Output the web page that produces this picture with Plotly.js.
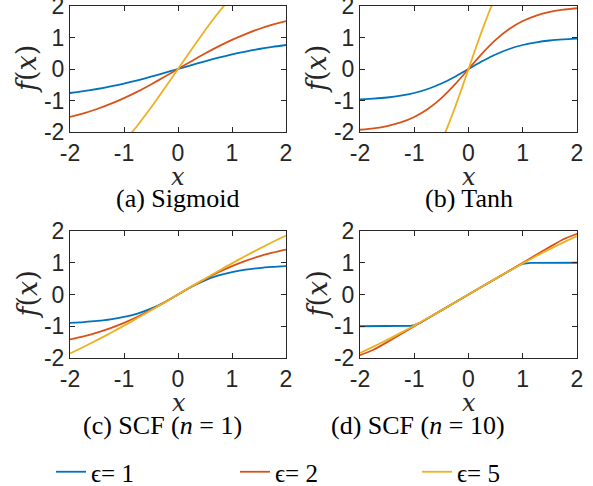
<!DOCTYPE html>
<html><head><meta charset="utf-8">
<script src="https://cdn.plot.ly/plotly-3.0.1.min.js"></script>
<style>html,body{margin:0;padding:0;background:#fff}#chart{width:593px;height:486px}</style>
</head><body><div id="chart"></div>
<script>
// ---- data ----
const seriesNames = ["ϵ= 1", "ϵ= 2", "ϵ= 5"];
const xGrid = [-2,-1.75,-1.5,-1.25,-1,-0.75,-0.5,-0.25,0,0.25,0.5,0.75,1,1.25,1.5,1.75,2];

const sigE1 = [-0.762,-0.704,-0.635,-0.555,-0.462,-0.358,-0.245,-0.124,0,0.124,0.245,0.358,0.462,0.555,0.635,0.704,0.762];
const sigE2 = [-1.523,-1.408,-1.270,-1.109,-0.924,-0.717,-0.490,-0.249,0,0.249,0.490,0.717,0.924,1.109,1.270,1.408,1.523];
const sigE5x = [-1,-0.75,-0.5,-0.25,0,0.25,0.5,0.75,1];
const sigE5 = [-2.311,-1.792,-1.225,-0.622,0,0.622,1.225,1.792,2.311];

const tanhE1 = [-0.964,-0.941,-0.905,-0.848,-0.762,-0.635,-0.462,-0.245,0,0.245,0.462,0.635,0.762,0.848,0.905,0.941,0.964];
const tanhE2 = [-1.928,-1.883,-1.810,-1.697,-1.523,-1.270,-0.924,-0.490,0,0.490,0.924,1.270,1.523,1.697,1.810,1.883,1.928];
const tanhE5x = [-0.5,-0.375,-0.25,-0.125,0,0.125,0.25,0.375,0.5];
const tanhE5 = [-2.311,-1.792,-1.225,-0.622,0,0.622,1.225,1.792,2.311];

const scf1E1 = [-0.894,-0.868,-0.832,-0.781,-0.707,-0.600,-0.447,-0.243,0,0.243,0.447,0.600,0.707,0.781,0.832,0.868,0.894];
const scf1E2 = [-1.414,-1.317,-1.200,-1.060,-0.894,-0.702,-0.485,-0.248,0,0.248,0.485,0.702,0.894,1.060,1.200,1.317,1.414];
const scf1E5 = [-1.857,-1.652,-1.437,-1.213,-0.981,-0.742,-0.498,-0.250,0,0.250,0.498,0.742,0.981,1.213,1.437,1.652,1.857];

const scf10E1x = [-2,-1.5,-1.3,-1.2,-1.15,-1.1,-1.05,-1,-0.95,-0.9,-0.85,-0.8,-0.5,0,0.5,0.8,0.85,0.9,0.95,1,1.05,1.1,1.15,1.2,1.3,1.5,2];
const scf10E1 = [-1,-1,-1,-0.999,-0.997,-0.993,-0.984,-0.966,-0.936,-0.895,-0.848,-0.800,-0.5,0,0.5,0.800,0.848,0.895,0.936,0.966,0.984,0.993,0.997,0.999,1,1,1];
const scf10E2 = [-1.91,-1.74,-1.50,-1.25,-1,-0.75,-0.5,-0.25,0,0.25,0.5,0.75,1,1.25,1.5,1.74,1.91];
const scf10E5 = [-1.84,-1.64,-1.43,-1.21,-0.98,-0.74,-0.50,-0.25,0,0.25,0.50,0.74,0.98,1.21,1.43,1.64,1.84];

const tickVals = [-2,-1,0,1,2];
const tickText = ["-2","-1","0","1","2"];
const captions = ["(a) Sigmoid", "(b) Tanh", "(c) SCF (<i>n</i> = 1)", "(d) SCF (<i>n</i> = 10)"];

// ---- style ----
const colors = ["#0072BD", "#D95319", "#EDB120"];
const legendIds = ["legend", "legend2", "legend3"];
const W = 593, H = 486;
const px = v => v / W, py = v => 1 - v / H;
const LW = 1.8;

function tr(x, y, i, ax, show, shape) {
  return {x: x, y: y, type: "scatter", mode: "lines", name: seriesNames[i],
    xaxis: ax[0], yaxis: ax[1], showlegend: show, legend: legendIds[i],
    line: {color: colors[i], width: LW, shape: shape || "spline", smoothing: 0.6}};
}
const A = ["x", "y"], B = ["x2", "y2"], C = ["x3", "y3"], D = ["x4", "y4"];
const data = [
  tr(xGrid, sigE1, 0, A, true), tr(xGrid, sigE2, 1, A, true), tr(sigE5x, sigE5, 2, A, true),
  tr(xGrid, tanhE1, 0, B, false), tr(xGrid, tanhE2, 1, B, false), tr(tanhE5x, tanhE5, 2, B, false),
  tr(xGrid, scf1E1, 0, C, false), tr(xGrid, scf1E2, 1, C, false), tr(xGrid, scf1E5, 2, C, false),
  tr(scf10E1x, scf10E1, 0, D, false, "linear"), tr(xGrid, scf10E2, 1, D, false), tr(xGrid, scf10E5, 2, D, false)
];

const tickFont = {family: "Liberation Sans, Arial, sans-serif", size: 23, color: "#262626"};
function axis(dom, anchor, isX) {
  return {domain: dom, anchor: anchor, range: [-2, 2], tickmode: "array",
    tickvals: tickVals, ticktext: tickText, ticks: "inside", ticklen: 5, tickwidth: 1,
    tickcolor: "#262626", showline: true, linecolor: "#262626", linewidth: 1,
    mirror: "ticks", showgrid: false, zeroline: false, tickfont: tickFont,
    automargin: false, ticklabeloverflow: "allow", ticklabelstandoff: 0, fixedrange: true};
}
const colL = [px(70), px(286)], colR = [px(360), px(577)];
const rowT = [py(132), py(6)], rowB = [py(358), py(231)];

const serif = "Liberation Serif, Times New Roman, serif";
const mathFont = {family: "DejaVu Serif, serif", size: 24, color: "#262626"};
const yLabFont = {family: "DejaVu Serif, serif", size: 27, color: "#262626"};
const capFont = {family: serif, size: 26, color: "#000"};
const ann = [];
const plots = [[70, 286, 6, 132], [360, 577, 6, 132], [70, 287, 231, 358], [361, 577, 231, 358]];
const yLabX = [27, 317, 27, 317];
const capX = [null, null, 81, 329];
plots.forEach((p, k) => {
  const cx = (p[0] + p[1]) / 2, cy = (p[2] + p[3]) / 2;
  ann.push({xref: "paper", yref: "paper", x: px(cx), y: py(p[3] + 45), text: "<i>x</i>",
    showarrow: false, xanchor: "center", yanchor: "middle", font: mathFont});
  ann.push({xref: "paper", yref: "paper", x: px(yLabX[k]), y: py(cy), text: "<i>f</i>(<i>x</i>)",
    textangle: -90, showarrow: false, xanchor: "center", yanchor: "middle", font: yLabFont});
  ann.push({xref: "paper", yref: "paper", x: px(capX[k] === null ? cx : capX[k]), y: py(p[3] + 67),
    text: captions[k], showarrow: false, xanchor: capX[k] === null ? "center" : "left",
    yanchor: "middle", font: capFont});
});

function leg(xLeft) {
  return {orientation: "h", x: px(xLeft), y: py(472), xanchor: "left", yanchor: "middle",
    font: {family: serif, size: 25, color: "#000"}, bgcolor: "rgba(0,0,0,0)",
    itemclick: false, itemdoubleclick: false};
}

const layout = {
  width: W, height: H, margin: {l: 0, r: 0, t: 0, b: 0, autoexpand: false},
  paper_bgcolor: "#fff", plot_bgcolor: "#fff", showlegend: true,
  legend: leg(51), legend2: leg(235), legend3: leg(417),
  xaxis: axis(colL, "y", true), yaxis: axis(rowT, "x", false),
  xaxis2: axis(colR, "y2", true), yaxis2: axis(rowT, "x2", false),
  xaxis3: axis(colL, "y3", true), yaxis3: axis(rowB, "x3", false),
  xaxis4: axis(colR, "y4", true), yaxis4: axis(rowB, "x4", false),
  annotations: ann
};
Plotly.newPlot("chart", data, layout, {displayModeBar: false, staticPlot: true});
</script></body></html>
